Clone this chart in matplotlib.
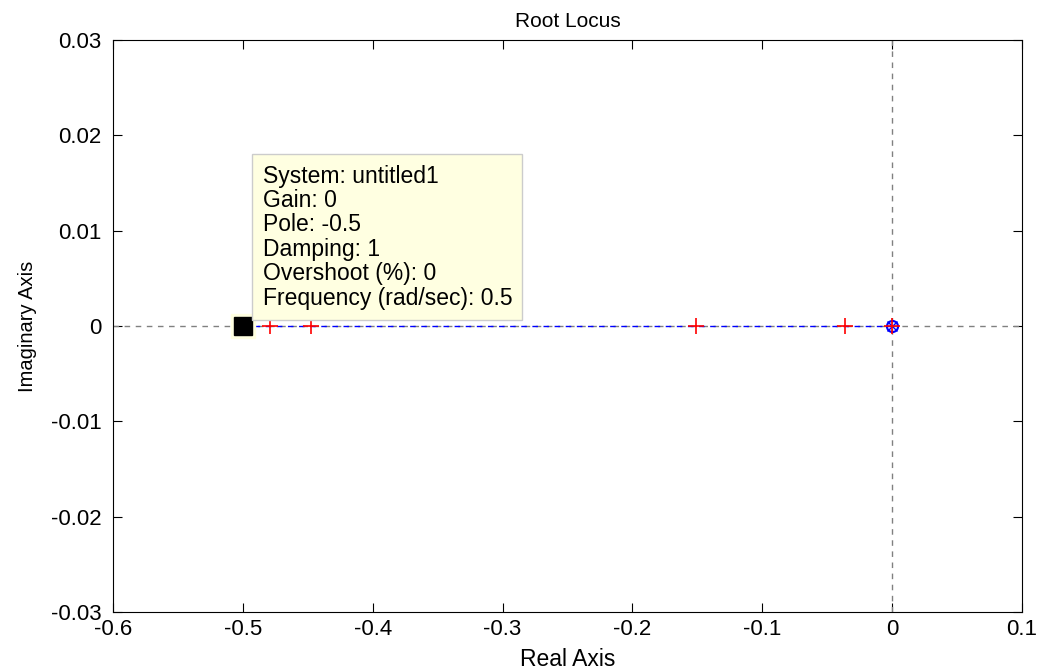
import matplotlib
matplotlib.use("Agg")
from matplotlib import pyplot as plt
import numpy as np

plt.rcParams["font.family"] = ["Liberation Sans", "DejaVu Sans"]

# root locus branch (real axis), pole at -0.5, zero at 0
locus_re = [-0.5, -0.4, -0.3, -0.2, -0.1, 0.0]
locus_im = [0, 0, 0, 0, 0, 0]
pole_re = [-0.5]
zero_re = [0.0]
# red markers on the locus
marks_re = [-0.479, -0.4475, -0.151, -0.0363, 0.0]

tip_lines = ["System: untitled1", "Gain: 0", "Pole: -0.5", "Damping: 1",
             "Overshoot (%): 0", "Frequency (rad/sec): 0.5"]

xticks = [-0.6, -0.5, -0.4, -0.3, -0.2, -0.1, 0, 0.1]
xtick_labels = ["-0.6", "-0.5", "-0.4", "-0.3", "-0.2", "-0.1", "0", "0.1"]
yticks = [-0.03, -0.02, -0.01, 0, 0.01, 0.02, 0.03]
ytick_labels = ["-0.03", "-0.02", "-0.01", "0", "0.01", "0.02", "0.03"]

fig = plt.figure(figsize=(10.42, 6.71), dpi=100)
ax = fig.add_axes([0.1084, 0.0879, 0.8724, 0.8525])

ax.axhline(0, color="gray", linestyle="--", linewidth=1, dashes=(4, 4))
ax.axvline(0, color="gray", linestyle="--", linewidth=1, dashes=(4, 4))

ax.plot(locus_re, locus_im, color="blue", linestyle="--", linewidth=1, dashes=(4, 4))
ax.plot(zero_re, [0], marker="o", markersize=8, markerfacecolor="none",
        markeredgecolor="blue", linestyle="none", markeredgewidth=1.5)
ax.plot(zero_re, [0], marker="x", markersize=7, color="blue", linestyle="none")
ax.plot(marks_re, [0] * len(marks_re), marker="+", markersize=12, color="red",
        linestyle="none", markeredgewidth=1.2)

# data tip marker
ax.plot(pole_re, [0], marker="s", markersize=17.5, markerfacecolor="#ffffe1",
        markeredgecolor="#ffffe1", linestyle="none")
ax.plot(pole_re, [0], marker="s", markersize=13.5, color="black", linestyle="none")

ax.text(-0.4848, 0.0017, "\n".join(tip_lines), fontsize=16.5, linespacing=1.08,
        va="bottom", ha="left",
        bbox=dict(boxstyle="square,pad=0.45", facecolor="#ffffe1", edgecolor="#cccccc"))

ax.set_xlim(-0.6, 0.1)
ax.set_ylim(-0.03, 0.03)
ax.set_xticks(xticks)
ax.set_xticklabels(xtick_labels)
ax.set_yticks(yticks)
ax.set_yticklabels(ytick_labels)
ax.tick_params(direction="in", labelsize=16, length=6.5, top=True, right=True)
ax.tick_params(axis="y", pad=8)
ax.tick_params(axis="x", pad=5)

ax.set_title("Root Locus", fontsize=15, pad=9)
ax.set_xlabel("Real Axis", fontsize=16.5, labelpad=6)
ax.set_ylabel("Imaginary Axis", fontsize=14.5, labelpad=10)

plt.savefig("out.png", dpi=100)
